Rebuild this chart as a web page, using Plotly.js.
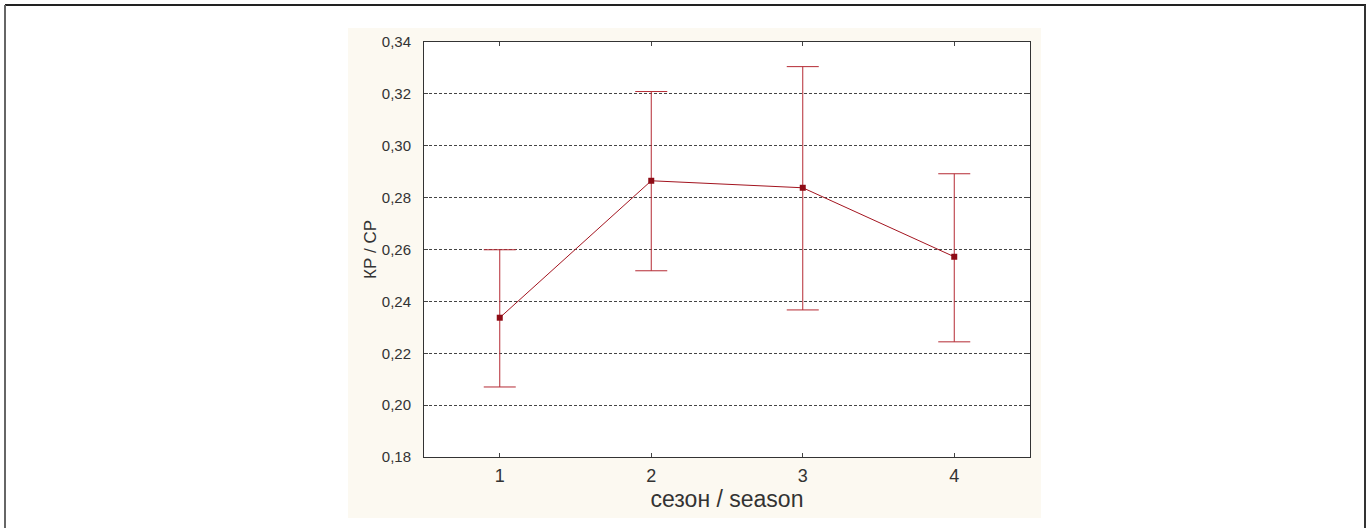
<!DOCTYPE html>
<html><head><meta charset="utf-8">
<script src="https://cdn.plot.ly/plotly-3.0.1.min.js"></script>
<style>html,body{margin:0;padding:0;background:#fff}#chart{width:1370px;height:528px}</style>
</head><body><div id="chart"></div>
<script>
const seasons = [1, 2, 3, 4];
const means = [0.2337, 0.2865, 0.2838, 0.2572];
const upper = [0.2599, 0.3209, 0.3305, 0.2892];
const lower = [0.2070, 0.2518, 0.2367, 0.2244];
const yTicks = [0.18, 0.20, 0.22, 0.24, 0.26, 0.28, 0.30, 0.32, 0.34];
const xTitle = 'сезон / season';
const yTitle = 'КР / СР';

const W = 1370, H = 528;
const M = {l: 424, r: 340, t: 42, b: 71};
const pw = W - M.l - M.r, ph = H - M.t - M.b;
const px = v => (v - M.l) / pw;
const py = v => (H - M.b - v) / ph;

const trace = {
  x: seasons, y: means, type: 'scatter', mode: 'lines+markers',
  line: {color: '#a3141f', width: 1},
  marker: {symbol: 'square', size: 6, color: '#8e0c16'},
  error_y: {type: 'data', symmetric: false,
    array: upper.map((u, i) => u - means[i]),
    arrayminus: means.map((m, i) => m - lower[i]),
    color: '#b42a33', thickness: 1, width: 16},
  hoverinfo: 'x+y'
};

const layout = {
  width: W, height: H, margin: M,
  paper_bgcolor: '#ffffff', plot_bgcolor: '#ffffff',
  separators: ',.',
  showlegend: false,
  font: {family: 'Liberation Sans, Arial, sans-serif', color: '#333'},
  xaxis: {range: [0.5, 4.5], tickvals: seasons, ticktext: seasons.map(String),
    ticks: 'inside', ticklen: 4, tickcolor: '#444', showline: true, linecolor: '#333', linewidth: 1,
    mirror: 'ticks', showgrid: false, zeroline: false,
    tickfont: {size: 18, color: '#333'}, ticklabelstandoff: 2,
    title: {text: xTitle, font: {size: 23, color: '#333'}, standoff: 6}},
  yaxis: {range: [0.18, 0.34], tickvals: yTicks, tickformat: '.2f',
    ticks: 'inside', ticklen: 4, tickcolor: '#444', showline: true, linecolor: '#333', linewidth: 1,
    mirror: 'ticks', showgrid: true, gridcolor: '#444', gridwidth: 1, griddash: '3px,2px', zeroline: false,
    tickfont: {size: 15, color: '#333'}, ticklabelstandoff: 9,
    title: {text: yTitle, font: {size: 17, color: '#333'}, standoff: 0}},
  shapes: [
    {type: 'rect', xref: 'paper', yref: 'paper', layer: 'below',
      x0: px(348), x1: px(1041), y0: py(518), y1: py(28),
      fillcolor: '#fcf9f1', line: {width: 0}},
    {type: 'rect', xref: 'paper', yref: 'paper', layer: 'below',
      x0: 0, x1: 1, y0: 0, y1: 1, fillcolor: '#ffffff', line: {width: 0}},
    {type: 'line', xref: 'paper', yref: 'paper', x0: px(5), x1: px(1366), y0: py(5), y1: py(5),
      line: {color: '#222', width: 2}},
    {type: 'line', xref: 'paper', yref: 'paper', x0: px(5), x1: px(5), y0: py(5), y1: py(530),
      line: {color: '#666', width: 2}},
    {type: 'line', xref: 'paper', yref: 'paper', x0: px(1365), x1: px(1365), y0: py(5), y1: py(530),
      line: {color: '#333', width: 2}}
  ]
};

Plotly.newPlot('chart', [trace], layout, {displayModeBar: false, staticPlot: true});
</script></body></html>
